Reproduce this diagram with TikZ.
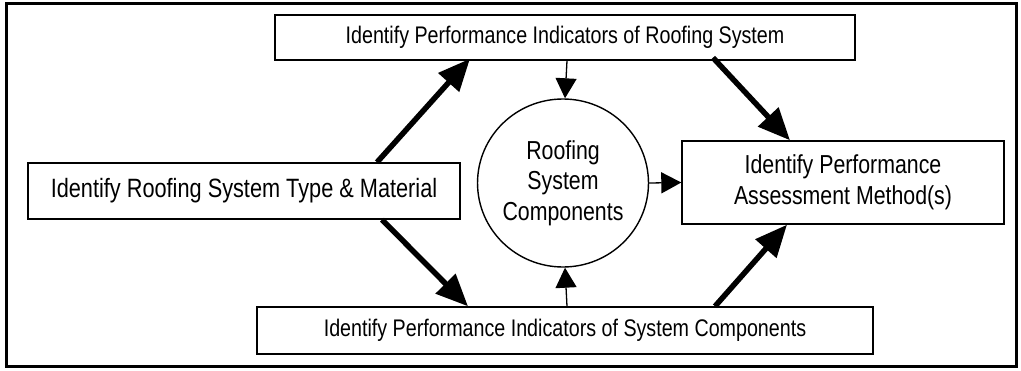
\documentclass[tikz,border=0pt]{standalone}
\usepackage{fontspec}
\setmainfont{Liberation Sans}[FakeStretch=0.82]
\usetikzlibrary{arrows.meta,shapes.geometric}
\begin{document}
\begin{tikzpicture}[x=1pt,y=-1pt,
  box/.style={draw,line width=1.4pt,inner sep=0pt,align=center},
  thick arrow/.style={line width=5.5pt,-{Triangle[length=32pt,width=27pt]}},
  thin arrow/.style={line width=1.3pt,-{Triangle[length=20pt,width=21pt]}}]
\useasboundingbox (0,0) rectangle (1021,370);
\draw[line width=3pt] (6.5,3.5) rectangle (1016.5,366.5);
\node[box,minimum width=580pt,minimum height=45pt,font=\fontsize{24}{28}\selectfont] (top) at (565,37.5) {Identify Performance Indicators of Roofing System};
\node[box,minimum width=432pt,minimum height=56pt,font=\fontsize{26.5}{30}\selectfont] (left) at (244,191) {Identify Roofing System Type \& Material};
\node[box,minimum width=616pt,minimum height=47pt,font=\fontsize{24}{28}\selectfont] (bot) at (565,330.5) {Identify Performance Indicators of System Components};
\node[box,minimum width=322pt,minimum height=83pt,font=\fontsize{26}{31}\selectfont] (right) at (843,182.5) {Identify Performance\\Assessment Method(s)};
\node[draw,line width=1.4pt,ellipse,minimum width=169pt,minimum height=168pt,inner sep=0pt,align=center,font=\fontsize{26}{30.5}\selectfont] (circ) at (563,183) {Roofing\\System\\Components};
\draw[thin arrow] ([xshift=2pt]top.south) -- ([xshift=2pt]circ.north);
\draw[thin arrow] ([xshift=2pt]bot.north) -- ([xshift=2pt]circ.south);
\draw[thin arrow] (circ.east) -- (right.west);
\draw[thick arrow] ([xshift=133pt]left.north) -- ([xshift=-95pt,yshift=2pt]top.south);
\draw[thick arrow] ([xshift=138pt]left.south) -- ([xshift=-97pt]bot.north);
\draw[thick arrow] ([xshift=148pt,yshift=3pt]top.south) -- ([xshift=-53pt]right.north);
\draw[thick arrow] ([xshift=150pt]bot.north) -- ([xshift=-56pt]right.south);
\end{tikzpicture}
\end{document}
